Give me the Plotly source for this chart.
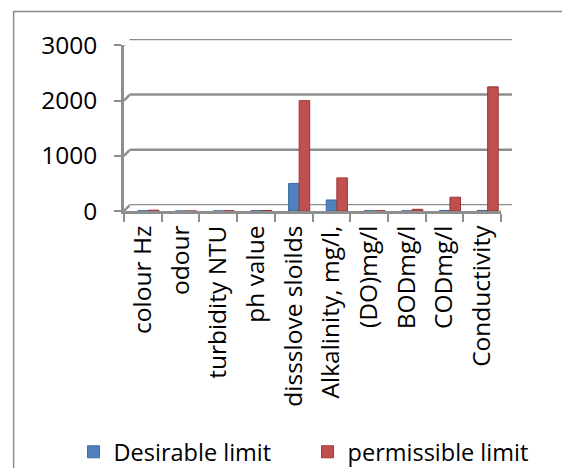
import plotly.graph_objects as go

categories = ["colour Hz", "odour", "turbidity NTU", "ph value", "dissslove sloilds",
              "Alkalinity, mg/l,", "(DO)mg/l", "BODmg/l", "CODmg/l", "Conductivity"]
desirable = [5, 0, 1, 6.5, 500, 200, 5, 3, 10, 10]
permissible = [15, 0, 5, 8.5, 2000, 600, 5, 30, 250, 2250]
series_names = ["Desirable limit", "permissible limit"]
y_ticks = [0, 1000, 2000, 3000]
y_tick_labels = ["0", "1000", "2000", "3000"]

FONT = "Open Sans"
FS = 24.5
GRID = "#8e8e8e"
W_PX, H_PX = 570, 468
OFF = 8  # default page margin of the html body

# plot-area geometry (screen pixels): front axis and back wall offset for a 3D look
FRONT_X0, BACK_X1 = 123.5 - OFF, 512.0 - OFF
BACK_Y_TOP, FRONT_Y0 = 38.5 - OFF, 210.7 - OFF
FRONT_Y_TOP = 45.0 - OFF
FRONT_X1 = 501.0 - OFF
DX, DY = 5.5, 5.7

L = FRONT_X0
R = W_PX - BACK_X1
T = BACK_Y_TOP
B = H_PX - FRONT_Y0
PW = BACK_X1 - FRONT_X0
PH = FRONT_Y0 - BACK_Y_TOP

n = len(categories)
cat_w = (FRONT_X1 - FRONT_X0) / n
back_units = (BACK_X1 - FRONT_X0 - DX) / cat_w

fig = go.Figure()
# bars: shifted back horizontally (x), standing on the front floor (y2)
fig.add_trace(go.Bar(x=categories, y=desirable, name=series_names[0],
                     marker=dict(color="#4F81BD", line=dict(color="#3a6aa3", width=1)),
                     xaxis="x", yaxis="y2"))
fig.add_trace(go.Bar(x=categories, y=permissible, name=series_names[1],
                     marker=dict(color="#C0504D", line=dict(color="#9c3532", width=1)),
                     xaxis="x", yaxis="y2"))
# invisible trace to build the front category axis
fig.add_trace(go.Scatter(x=categories, y=[0] * n, mode="markers", opacity=0,
                         showlegend=False, hoverinfo="skip", xaxis="x2", yaxis="y2"))

shapes = []
for v in y_ticks:
    # back wall gridline
    shapes.append(dict(type="line", xref="x domain", yref="y", x0=0, x1=1, y0=v, y1=v,
                       line=dict(color=GRID, width=2.5), layer="below"))
    # diagonal connector from front tick to back wall
    shapes.append(dict(type="line", xref="paper", yref="y2",
                       xsizemode="pixel", xanchor=0, x0=0, x1=DX,
                       ysizemode="pixel", yanchor=v, y0=0, y1=DY,
                       line=dict(color=GRID, width=2.5), layer="below"))
# floor right edge
shapes.append(dict(type="line", xref="x2", yref="y2",
                   xsizemode="pixel", xanchor=n - 0.5, x0=0, x1=DX,
                   ysizemode="pixel", yanchor=0, y0=0, y1=DY,
                   line=dict(color=GRID, width=2.5), layer="below"))
# outer frame (cropped on the right and bottom)
fx = (13 - OFF - L) / PW
fy = (H_PX - (11 - OFF) - B) / PH
shapes.append(dict(type="path", xref="paper", yref="paper",
                   path="M {},{} L {},{} L {},{}".format(
                       fx, -B / PH - 0.2, fx, fy, (W_PX + 5 - L) / PW, fy),
                   line=dict(color="#8c8c8c", width=1.5)))

leg_x = (65 - L) / PW
leg_y = ((H_PX - (452 - OFF)) - B) / PH

fig.update_layout(
    width=W_PX, height=H_PX,
    margin=dict(l=L, r=R, t=T, b=B, pad=0, autoexpand=False),
    paper_bgcolor="white", plot_bgcolor="rgba(0,0,0,0)",
    barmode="group", bargap=0.44, bargroupgap=0,
    font=dict(family=FONT, size=FS, color="black"),
    showlegend=True,
    legend=dict(orientation="h", xref="paper", yref="paper",
                x=leg_x, xanchor="left", y=leg_y, yanchor="middle",
                font=dict(size=23.5), entrywidth=189, entrywidthmode="pixels",
                bgcolor="rgba(0,0,0,0)"),
    xaxis=dict(domain=[DX / PW, 1], range=[-0.5, -0.5 + back_units],
               type="category", showticklabels=False, ticks="",
               showgrid=False, zeroline=False, showline=False),
    yaxis=dict(domain=[DY / PH, 1], range=[0, 3000],
               showticklabels=False, ticks="", showgrid=False,
               zeroline=False, showline=False),
    xaxis2=dict(domain=[0, (FRONT_X1 - FRONT_X0) / PW], range=[-0.5, n - 0.5],
                type="category", anchor="y2",
                showline=True, linecolor=GRID, linewidth=2.5,
                ticks="outside", tickson="boundaries", ticklen=8, tickwidth=2,
                tickcolor=GRID, tickangle=-90, showgrid=False, zeroline=False,
                tickfont=dict(size=FS), ticklabelstandoff=2),
    yaxis2=dict(domain=[0, (FRONT_Y0 - FRONT_Y_TOP) / PH], range=[0, 3000], anchor="x2",
                tickvals=y_ticks, ticktext=y_tick_labels,
                showline=True, linecolor=GRID, linewidth=2.5,
                ticks="outside", ticklen=7, tickwidth=2, tickcolor=GRID,
                showgrid=False, zeroline=False, tickfont=dict(size=FS),
                ticklabelstandoff=12),
    shapes=shapes,
)

fig.write_html("out.html")
